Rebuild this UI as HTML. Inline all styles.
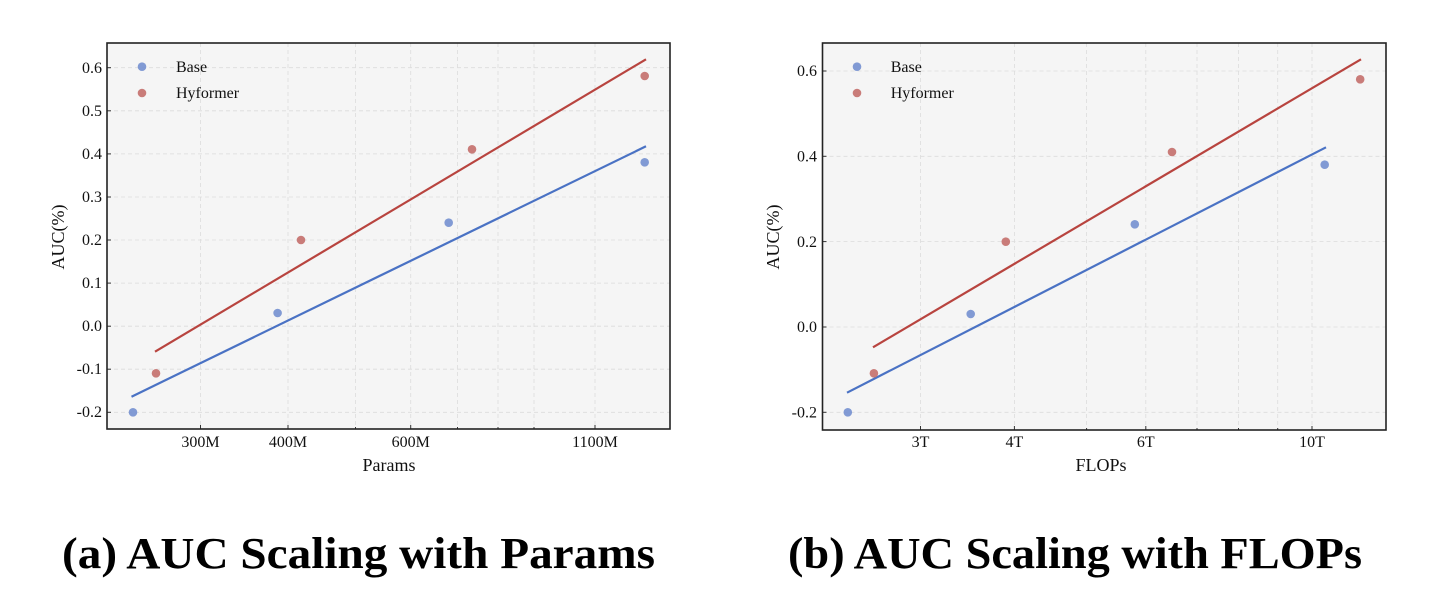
<!DOCTYPE html>
<html><head><meta charset="utf-8"><style>body{margin:0;background:#fff}svg{display:block}</style></head>
<body>
<svg width="1432" height="608" viewBox="0 0 1432 608" xmlns="http://www.w3.org/2000/svg" font-family="Liberation Serif, serif">
<rect width="1432" height="608" fill="#fff"/>
<!-- Left plot -->
<rect x="107" y="43" width="563" height="386" fill="#f5f5f5"/>
<g stroke="#dcdcdc" stroke-width="0.8" stroke-dasharray="4,3">
<line x1="107" x2="670" y1="67.7" y2="67.7"/><line x1="107" x2="670" y1="110.8" y2="110.8"/><line x1="107" x2="670" y1="153.9" y2="153.9"/><line x1="107" x2="670" y1="197" y2="197"/><line x1="107" x2="670" y1="240" y2="240"/><line x1="107" x2="670" y1="283.1" y2="283.1"/><line x1="107" x2="670" y1="326.2" y2="326.2"/><line x1="107" x2="670" y1="369.2" y2="369.2"/><line x1="107" x2="670" y1="412.3" y2="412.3"/>
<line y1="43" y2="429" x1="200.5" x2="200.5"/><line y1="43" y2="429" x1="288" x2="288"/><line y1="43" y2="429" x1="410.7" x2="410.7"/><line y1="43" y2="429" x1="595" x2="595"/>
<line y1="43" y2="429" x1="355.5" x2="355.5"/><line y1="43" y2="429" x1="457.5" x2="457.5"/><line y1="43" y2="429" x1="498" x2="498"/><line y1="43" y2="429" x1="534" x2="534"/>
</g>
<g stroke="#333" stroke-width="1">
<line x1="107" x2="111" y1="67.7" y2="67.7"/><line x1="107" x2="111" y1="110.8" y2="110.8"/><line x1="107" x2="111" y1="153.9" y2="153.9"/><line x1="107" x2="111" y1="197" y2="197"/><line x1="107" x2="111" y1="240" y2="240"/><line x1="107" x2="111" y1="283.1" y2="283.1"/><line x1="107" x2="111" y1="326.2" y2="326.2"/><line x1="107" x2="111" y1="369.2" y2="369.2"/><line x1="107" x2="111" y1="412.3" y2="412.3"/>
<line y1="429" y2="425" x1="200.5" x2="200.5"/><line y1="429" y2="425" x1="288" x2="288"/><line y1="429" y2="425" x1="410.7" x2="410.7"/><line y1="429" y2="425" x1="595" x2="595"/>
<line y1="429" y2="427" x1="355.5" x2="355.5"/><line y1="429" y2="427" x1="457.5" x2="457.5"/><line y1="429" y2="427" x1="498" x2="498"/><line y1="429" y2="427" x1="534" x2="534"/>
</g>
<rect x="107" y="43" width="563" height="386" fill="none" stroke="#222" stroke-width="1.6"/>
<g font-size="16" fill="#111" text-anchor="end">
<text x="102" y="73">0.6</text><text x="102" y="116">0.5</text><text x="102" y="159">0.4</text><text x="102" y="202">0.3</text><text x="102" y="245">0.2</text><text x="102" y="288">0.1</text><text x="102" y="331">0.0</text><text x="102" y="374">-0.1</text><text x="102" y="417">-0.2</text>
</g>
<g font-size="16" fill="#111" text-anchor="middle">
<text x="200.5" y="447">300M</text><text x="288" y="447">400M</text><text x="410.7" y="447">600M</text><text x="595" y="447">1100M</text>
<text x="389" y="471" font-size="18">Params</text>
<text transform="translate(64,237) rotate(-90)" font-size="18">AUC(%)</text>
</g>
<line x1="131.5" y1="396.7" x2="646" y2="146.3" stroke="#4a72c4" stroke-width="2.2"/>
<line x1="155" y1="351.7" x2="646" y2="59.3" stroke="#b8443f" stroke-width="2.2"/>
<g fill="#7490d0" fill-opacity="0.9"><circle cx="133" cy="412.3" r="4.3"/><circle cx="277.6" cy="313" r="4.3"/><circle cx="448.7" cy="222.7" r="4.3"/><circle cx="644.7" cy="162.3" r="4.3"/><circle cx="142" cy="66.7" r="4.3"/></g>
<g fill="#c46f6c" fill-opacity="0.9"><circle cx="156" cy="373.3" r="4.3"/><circle cx="301" cy="240" r="4.3"/><circle cx="472" cy="149.3" r="4.3"/><circle cx="644.7" cy="76" r="4.3"/><circle cx="142" cy="93" r="4.3"/></g>
<g font-size="16" fill="#111"><text x="176" y="72">Base</text><text x="176" y="98">Hyformer</text></g>

<!-- Right plot -->
<rect x="822.5" y="43" width="563.5" height="387" fill="#f5f5f5"/>
<g stroke="#dcdcdc" stroke-width="0.8" stroke-dasharray="4,3">
<line x1="822.5" x2="1386" y1="71" y2="71"/><line x1="822.5" x2="1386" y1="156.3" y2="156.3"/><line x1="822.5" x2="1386" y1="241.6" y2="241.6"/><line x1="822.5" x2="1386" y1="327" y2="327"/><line x1="822.5" x2="1386" y1="412.3" y2="412.3"/>
<line y1="43" y2="430" x1="920.5" x2="920.5"/><line y1="43" y2="430" x1="1014.4" x2="1014.4"/><line y1="43" y2="430" x1="1145.8" x2="1145.8"/><line y1="43" y2="430" x1="1312" x2="1312"/>
<line y1="43" y2="430" x1="1086.6" x2="1086.6"/><line y1="43" y2="430" x1="1197" x2="1197"/><line y1="43" y2="430" x1="1238.5" x2="1238.5"/><line y1="43" y2="430" x1="1277.7" x2="1277.7"/>
</g>
<g stroke="#333" stroke-width="1">
<line x1="822.5" x2="826.5" y1="71" y2="71"/><line x1="822.5" x2="826.5" y1="156.3" y2="156.3"/><line x1="822.5" x2="826.5" y1="241.6" y2="241.6"/><line x1="822.5" x2="826.5" y1="327" y2="327"/><line x1="822.5" x2="826.5" y1="412.3" y2="412.3"/>
<line y1="430" y2="426" x1="920.5" x2="920.5"/><line y1="430" y2="426" x1="1014.4" x2="1014.4"/><line y1="430" y2="426" x1="1145.8" x2="1145.8"/><line y1="430" y2="426" x1="1312" x2="1312"/>
<line y1="430" y2="428" x1="1086.6" x2="1086.6"/><line y1="430" y2="428" x1="1197" x2="1197"/><line y1="430" y2="428" x1="1238.5" x2="1238.5"/><line y1="430" y2="428" x1="1277.7" x2="1277.7"/>
</g>
<rect x="822.5" y="43" width="563.5" height="387" fill="none" stroke="#222" stroke-width="1.6"/>
<g font-size="16" fill="#111" text-anchor="end">
<text x="817" y="76">0.6</text><text x="817" y="161.5">0.4</text><text x="817" y="247">0.2</text><text x="817" y="332">0.0</text><text x="817" y="417.5">-0.2</text>
</g>
<g font-size="16" fill="#111" text-anchor="middle">
<text x="920.5" y="447">3T</text><text x="1014.4" y="447">4T</text><text x="1145.8" y="447">6T</text><text x="1312" y="447">10T</text>
<text x="1101" y="471" font-size="18">FLOPs</text>
<text transform="translate(779,237) rotate(-90)" font-size="18">AUC(%)</text>
</g>
<line x1="847" y1="392.7" x2="1326" y2="147.3" stroke="#4a72c4" stroke-width="2.2"/>
<line x1="873" y1="347.3" x2="1361" y2="59.3" stroke="#b8443f" stroke-width="2.2"/>
<g fill="#7490d0" fill-opacity="0.9"><circle cx="847.8" cy="412.3" r="4.3"/><circle cx="970.7" cy="314" r="4.3"/><circle cx="1134.8" cy="224.3" r="4.3"/><circle cx="1324.7" cy="164.7" r="4.3"/><circle cx="857" cy="66.7" r="4.3"/></g>
<g fill="#c46f6c" fill-opacity="0.9"><circle cx="873.9" cy="373.3" r="4.3"/><circle cx="1005.8" cy="241.7" r="4.3"/><circle cx="1172" cy="152" r="4.3"/><circle cx="1360.2" cy="79.3" r="4.3"/><circle cx="857" cy="93" r="4.3"/></g>
<g font-size="16" fill="#111"><text x="890.7" y="72">Base</text><text x="890.7" y="98">Hyformer</text></g>

<!-- Titles -->
<g font-size="44" font-weight="bold" fill="#000">
<text x="62" y="568" textLength="593" lengthAdjust="spacingAndGlyphs">(a) AUC Scaling with Params</text>
<text x="788" y="568" textLength="574" lengthAdjust="spacingAndGlyphs">(b) AUC Scaling with FLOPs</text>
</g>
</svg>
</body></html>
